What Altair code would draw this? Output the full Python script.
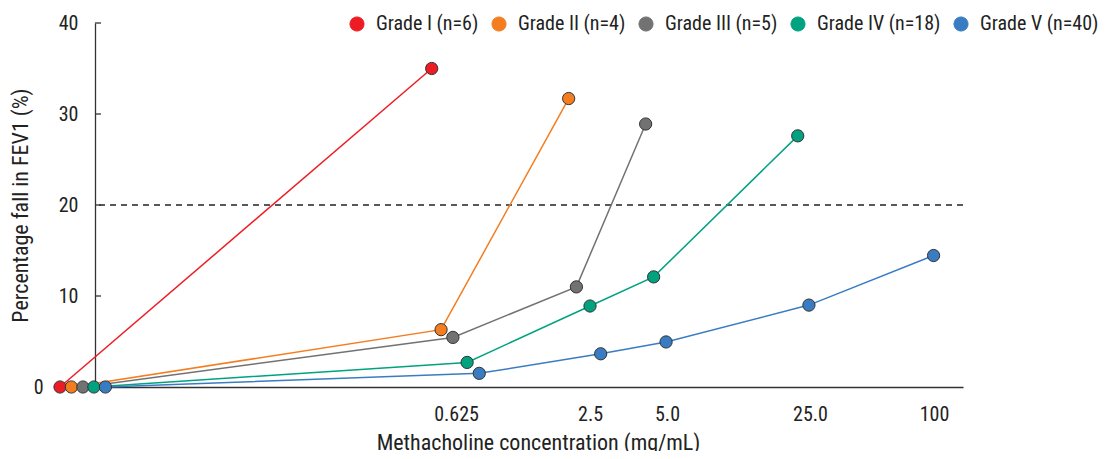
import altair as alt
import pandas as pd

# ---- data ----
grades = ["Grade I (n=6)", "Grade II (n=4)", "Grade III (n=5)", "Grade IV (n=18)", "Grade V (n=40)"]
colors = ["#ED1C24", "#F47D20", "#727272", "#00A27F", "#3A7CC2"]

# horizontal position on the concentration axis (arbitrary axis units 0-100)
grade1_x = [-4.03, 38.79]
grade1_y = [0.0, 35.0]
grade2_x = [-2.72, 39.87, 54.57]
grade2_y = [0.0, 6.3, 31.7]
grade3_x = [-1.39, 41.23, 55.46, 63.44]
grade3_y = [0.0, 5.45, 11.0, 28.9]
grade4_x = [-0.13, 42.87, 57.03, 64.36, 80.96]
grade4_y = [0.0, 2.7, 8.9, 12.1, 27.6]
grade5_x = [1.20, 44.27, 58.26, 65.79, 82.25, 96.61]
grade5_y = [0.0, 1.5, 3.65, 4.95, 9.0, 14.45]

tick_pos = [41.59, 57.03, 65.90, 82.37, 96.66]
tick_labels = ["0.625", "2.5", "5.0", "25.0", "100"]
y_ticks = [0, 10, 20, 30, 40]
threshold = 20

rows = []
for g, xs, ys in zip(grades,
                     [grade1_x, grade2_x, grade3_x, grade4_x, grade5_x],
                     [grade1_y, grade2_y, grade3_y, grade4_y, grade5_y]):
    for i, (xv, yv) in enumerate(zip(xs, ys)):
        rows.append({"grade": g, "x": xv, "y": yv, "step": i})
df = pd.DataFrame(rows)

FONT = "Liberation Sans Narrow, Arial Narrow, Roboto Condensed, DejaVu Sans Condensed, sans-serif"

label_expr = " : ".join(f"datum.value == {p} ? '{t}'" for p, t in zip(tick_pos, tick_labels)) + " : ''"

x_enc = alt.X("x:Q",
              scale=alt.Scale(domain=[0, 100], nice=False, zero=False),
              axis=alt.Axis(values=tick_pos, labelExpr=label_expr, ticks=False, grid=False,
                            title="Methacholine concentration (mg/mL)",
                            labelFontSize=20, titleFontSize=22, labelPadding=17,
                            titleX=443, titleY=55, titleBaseline="middle",
                            titleFontWeight="normal", domainColor="#333", domainWidth=1.3,
                            labelColor="#222", titleColor="#222"))
y_enc = alt.Y("y:Q",
              scale=alt.Scale(domain=[0, 40], nice=False),
              axis=alt.Axis(values=y_ticks, ticks=False, grid=False,
                            title="Percentage fall in FEV1 (%)",
                            labelFontSize=20, titleFontSize=22,
                            labelPadding=alt.condition("datum.value == 0", alt.value(52), alt.value(17)),
                            titleX=-75, titleY=182, titleBaseline="middle",
                            titleFontWeight="normal", domainColor="#333", domainWidth=1.3,
                            labelColor="#222", titleColor="#222"))

color_scale = alt.Scale(domain=grades, range=colors)
color_enc = alt.Color("grade:N", scale=color_scale,
                      legend=alt.Legend(orient="none", legendX=252, legendY=-9,
                                        direction="horizontal", columns=5, title=None,
                                        symbolType="circle", symbolSize=200,
                                        symbolStrokeColor="#333", symbolStrokeWidth=1,
                                        symbolOpacity=1,
                                        labelFontSize=20, labelOffset=9, columnPadding=10,
                                        labelColor="#222", labelFont=FONT))

base = alt.Chart(df)

lines = base.mark_line(strokeWidth=1.5).encode(
    x=x_enc, y=y_enc, color=color_enc,
    detail="grade:N", order="step:Q")

points = base.mark_circle(size=150, opacity=1, stroke="#333", strokeWidth=1).encode(
    x="x:Q", y="y:Q", color=color_enc)

dash = alt.Chart(pd.DataFrame({"y": [threshold]})).mark_rule(
    strokeDash=[6, 5], color="#222", strokeWidth=1.3).encode(y="y:Q")

ytick_rules = alt.Chart(pd.DataFrame({"y": y_ticks[1:]})).mark_rule(
    color="#333", strokeWidth=1.3).encode(y="y:Q", x=alt.value(0), x2=alt.value(6))

chart = alt.layer(dash, ytick_rules, lines, points).properties(
    width=868, height=364,
    autosize=alt.AutoSizeParams(type="none"),
    padding={"left": 87, "top": 15, "right": 138, "bottom": 64},
).configure(font=FONT).configure_view(stroke=None)

chart.save("out.html", embed_options={"renderer": "svg", "actions": False})
